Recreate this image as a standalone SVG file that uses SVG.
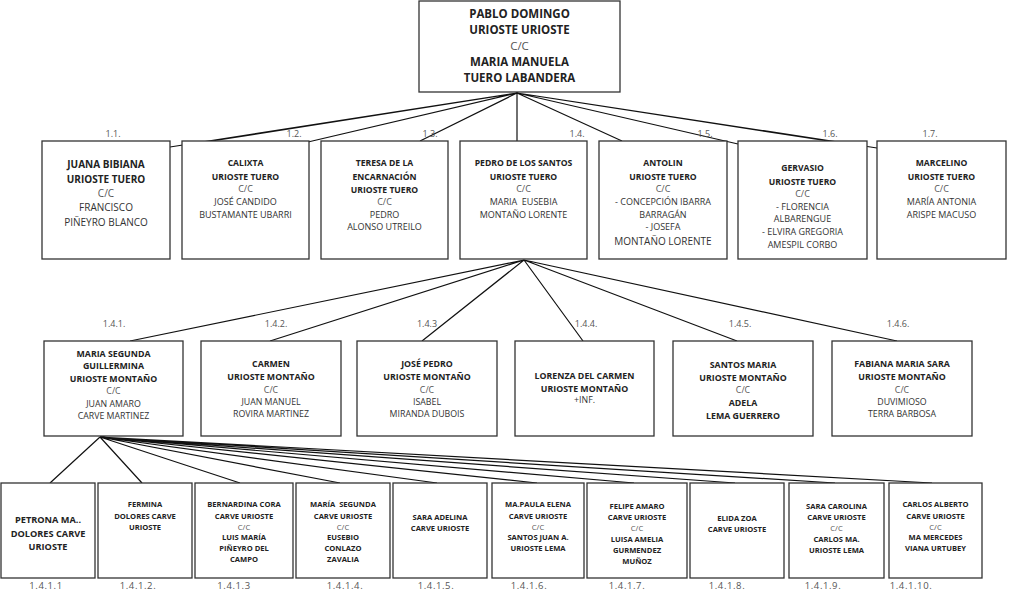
<svg xmlns="http://www.w3.org/2000/svg" width="1024" height="609" viewBox="0 0 1024 609">
<style>
text{font-family:"Open Sans","Noto Sans","Liberation Sans",sans-serif;text-anchor:middle}
.box{fill:#fff;stroke:#333;stroke-width:1.3}
.ln{stroke:#111;stroke-width:1.2;fill:none}
.b{font-weight:700;fill:#222}
.r{fill:#333}
.c{fill:#555}
.lb{fill:#555;font-size:9px}
.lb4{fill:#555;font-size:9.5px;letter-spacing:0.6px}
.s0{font-size:11.5px}
.s1{font-size:8.6px}
.s1r{font-size:9px}
.s2{font-size:10px}
.s3{font-size:8.8px}
.s4{font-size:7.6px}
.s5{font-size:9.2px}
</style>
<rect width="1024" height="609" fill="#fff"/>
<g id="connectors">
<path class="ln" d="M517 93L170 147M517 93L212 141M517 93L308 142M517 93L420 141M517 93L517 141M517 93L622 141M517 93L738 144M517 93L828 141M517 93L877 148"/>
<path class="ln" d="M524 260L130 341M524 260L270 341M524 260L422 341M524 260L583 341M524 260L737 341M524 260L897 341"/>
<path class="ln" d="M100 437L50 483M100 437L142 483M100 437L240 483M100 437L340 483M100 437L437 483M100 437L537 483M100 437L634 483M100 437L735 483M100 437L835 483M100 437L932 483"/>
</g>
<g id="n1">
<rect class="box" x="419" y="1" width="201" height="91"/>
<text class="b s0" x="519.5" y="18">PABLO DOMINGO</text>
<text class="b s0" x="519.5" y="34">URIOSTE URIOSTE</text>
<text class="c s0" x="519.5" y="50">C/C</text>
<text class="b s0" x="519.5" y="66">MARIA MANUELA</text>
<text class="b s0" x="519.5" y="82">TUERO LABANDERA</text>
</g>
<g id="n1_1">
<rect class="box" x="42" y="141" width="128" height="118"/>
<text class="lb" x="113" y="137">1.1.</text>
<text class="b s2" x="106" y="168">JUANA BIBIANA</text>
<text class="b s2" x="106" y="182.5">URIOSTE TUERO</text>
<text class="c s2" x="106" y="197">C/C</text>
<text class="r s2" x="106" y="211">FRANCISCO</text>
<text class="r s2" x="106" y="225.5">PIÑEYRO BLANCO</text>
</g>
<g id="n1_2">
<rect class="box" x="182" y="141" width="127" height="118"/>
<text class="lb" x="294" y="137">1.2.</text>
<text class="b s1" x="245.5" y="166">CALIXTA</text>
<text class="b s1" x="245.5" y="180">URIOSTE TUERO</text>
<text class="c s1r" x="245.5" y="192">C/C</text>
<text class="r s1r" x="245.5" y="205">JOSÉ CANDIDO</text>
<text class="r s1r" x="245.5" y="217.5">BUSTAMANTE UBARRI</text>
</g>
<g id="n1_3">
<rect class="box" x="321" y="141" width="127" height="118"/>
<text class="lb" x="430" y="137">1.3.</text>
<text class="b s1" x="384.5" y="166">TERESA DE LA</text>
<text class="b s1" x="384.5" y="180">ENCARNACIÓN</text>
<text class="b s1" x="384.5" y="192.5">URIOSTE TUERO</text>
<text class="c s1r" x="384.5" y="205">C/C</text>
<text class="r s1r" x="384.5" y="217.5">PEDRO</text>
<text class="r s1r" x="384.5" y="230">ALONSO UTREILO</text>
</g>
<g id="n1_4">
<rect class="box" x="460" y="141" width="127" height="118"/>
<text class="lb" x="577" y="137">1.4.</text>
<text class="b s1" x="523.5" y="166">PEDRO DE LOS SANTOS</text>
<text class="b s1" x="523.5" y="180">URIOSTE TUERO</text>
<text class="c s1r" x="523.5" y="192">C/C</text>
<text class="r s1r" x="523.5" y="205" xml:space="preserve">MARIA  EUSEBIA</text>
<text class="r s1r" x="523.5" y="217.5">MONTAÑO LORENTE</text>
</g>
<g id="n1_5">
<rect class="box" x="599" y="141" width="128" height="118"/>
<text class="lb" x="705" y="137">1.5.</text>
<text class="b s1" x="663" y="166">ANTOLIN</text>
<text class="b s1" x="663" y="180">URIOSTE TUERO</text>
<text class="c s1r" x="663" y="192">C/C</text>
<text class="r s1r" x="663" y="205">- CONCEPCIÓN IBARRA</text>
<text class="r s1r" x="663" y="217.5">BARRAGÁN</text>
<text class="r s1r" x="663" y="230">- JOSEFA</text>
<text class="r s2" x="663" y="245">MONTAÑO LORENTE</text>
</g>
<g id="n1_6">
<rect class="box" x="738" y="141" width="129" height="118"/>
<text class="lb" x="830" y="137">1.6.</text>
<text class="b s1" x="802.5" y="171">GERVASIO</text>
<text class="b s1" x="802.5" y="185">URIOSTE TUERO</text>
<text class="c s1r" x="802.5" y="197">C/C</text>
<text class="r s1r" x="802.5" y="209.5">- FLORENCIA</text>
<text class="r s1r" x="802.5" y="222">ALBARENGUE</text>
<text class="r s1r" x="802.5" y="235">- ELVIRA GREGORIA</text>
<text class="r s1r" x="802.5" y="247.5">AMESPIL CORBO</text>
</g>
<g id="n1_7">
<rect class="box" x="877" y="141" width="129" height="118"/>
<text class="lb" x="930" y="137">1.7.</text>
<text class="b s1" x="941.5" y="166">MARCELINO</text>
<text class="b s1" x="941.5" y="180">URIOSTE TUERO</text>
<text class="c s1r" x="941.5" y="192">C/C</text>
<text class="r s1r" x="941.5" y="205">MARÍA ANTONIA</text>
<text class="r s1r" x="941.5" y="217.5">ARISPE MACUSO</text>
</g>
<g id="n1_4_1">
<rect class="box" x="44" y="341" width="139" height="95"/>
<text class="lb" x="114" y="327">1.4.1.</text>
<text class="b s3" x="113.5" y="356.5">MARIA SEGUNDA</text>
<text class="b s3" x="113.5" y="369">GUILLERMINA</text>
<text class="b s3" x="113.5" y="381.5">URIOSTE MONTAÑO</text>
<text class="c s3" x="113.5" y="394">C/C</text>
<text class="r s3" x="113.5" y="406.5">JUAN AMARO</text>
<text class="r s3" x="113.5" y="419">CARVE MARTINEZ</text>
</g>
<g id="n1_4_2">
<rect class="box" x="201" y="341" width="140" height="95"/>
<text class="lb" x="276" y="327">1.4.2.</text>
<text class="b s3" x="271" y="366.5">CARMEN</text>
<text class="b s3" x="271" y="380">URIOSTE MONTAÑO</text>
<text class="c s3" x="271" y="392.5">C/C</text>
<text class="r s3" x="271" y="404.5">JUAN MANUEL</text>
<text class="r s3" x="271" y="417">ROVIRA MARTINEZ</text>
</g>
<g id="n1_4_3">
<rect class="box" x="357" y="341" width="140" height="95"/>
<text class="lb" x="427" y="327">1.4.3</text>
<text class="b s3" x="427" y="366.5">JOSÉ PEDRO</text>
<text class="b s3" x="427" y="380">URIOSTE MONTAÑO</text>
<text class="c s3" x="427" y="392.5">C/C</text>
<text class="r s3" x="427" y="404.5">ISABEL</text>
<text class="r s3" x="427" y="417">MIRANDA DUBOIS</text>
</g>
<g id="n1_4_4">
<rect class="box" x="515" y="341" width="139" height="95"/>
<text class="lb" x="586" y="327">1.4.4.</text>
<text class="b s3" x="584.5" y="379">LORENZA DEL CARMEN</text>
<text class="b s3" x="584.5" y="391.5">URIOSTE MONTAÑO</text>
<text class="r s3" x="584.5" y="403">+INF.</text>
</g>
<g id="n1_4_5">
<rect class="box" x="673" y="341" width="140" height="95"/>
<text class="lb" x="740" y="327">1.4.5.</text>
<text class="b s3" x="743" y="367.5">SANTOS MARIA</text>
<text class="b s3" x="743" y="380.5">URIOSTE MONTAÑO</text>
<text class="c s3" x="743" y="392.5">C/C</text>
<text class="b s3" x="743" y="405.5">ADELA</text>
<text class="b s3" x="743" y="419">LEMA GUERRERO</text>
</g>
<g id="n1_4_6">
<rect class="box" x="832" y="341" width="140" height="95"/>
<text class="lb" x="898" y="327">1.4.6.</text>
<text class="b s3" x="902" y="366.5">FABIANA MARIA SARA</text>
<text class="b s3" x="902" y="379.5">URIOSTE MONTAÑO</text>
<text class="c s3" x="902" y="392.5">C/C</text>
<text class="r s3" x="902" y="404.5">DUVIMIOSO</text>
<text class="r s3" x="902" y="417">TERRA BARBOSA</text>
</g>
<g id="n1_4_1_1">
<rect class="box" x="1" y="483" width="94" height="95"/>
<text class="b s5" x="48" y="522.5">PETRONA MA..</text>
<text class="b s5" x="48" y="536.5">DOLORES CARVE</text>
<text class="b s5" x="48" y="549.5">URIOSTE</text>
<text class="lb4" x="46" y="589">1.4.1.1</text>
</g>
<g id="n1_4_1_2">
<rect class="box" x="98" y="483" width="94" height="95"/>
<text class="b s4" x="145" y="506.5">FERMINA</text>
<text class="b s4" x="145" y="518.5">DOLORES CARVE</text>
<text class="b s4" x="145" y="529.5">URIOSTE</text>
<text class="lb4" x="138" y="589">1.4.1.2.</text>
</g>
<g id="n1_4_1_3">
<rect class="box" x="195" y="483" width="98" height="95"/>
<text class="b s4" x="244" y="506.5">BERNARDINA CORA</text>
<text class="b s4" x="244" y="518.5">CARVE URIOSTE</text>
<text class="c s4" x="244" y="529.5">C/C</text>
<text class="b s4" x="244" y="540">LUIS MARÍA</text>
<text class="b s4" x="244" y="551">PIÑEYRO DEL</text>
<text class="b s4" x="244" y="562">CAMPO</text>
<text class="lb4" x="234" y="589">1.4.1.3</text>
</g>
<g id="n1_4_1_4">
<rect class="box" x="296" y="483" width="94" height="95"/>
<text class="b s4" x="343" y="506.5" xml:space="preserve">MARÍA  SEGUNDA</text>
<text class="b s4" x="343" y="518.5">CARVE URIOSTE</text>
<text class="c s4" x="343" y="529.5">C/C</text>
<text class="b s4" x="343" y="540">EUSEBIO</text>
<text class="b s4" x="343" y="551">CONLAZO</text>
<text class="b s4" x="343" y="562">ZAVALIA</text>
<text class="lb4" x="345" y="589">1.4.1.4.</text>
</g>
<g id="n1_4_1_5">
<rect class="box" x="393" y="483" width="94" height="95"/>
<text class="b s4" x="440" y="519.5">SARA ADELINA</text>
<text class="b s4" x="440" y="530.5">CARVE URIOSTE</text>
<text class="lb4" x="436" y="589">1.4.1.5.</text>
</g>
<g id="n1_4_1_6">
<rect class="box" x="492" y="483" width="92" height="95"/>
<text class="b s4" x="538" y="506.5">MA.PAULA ELENA</text>
<text class="b s4" x="538" y="518.5">CARVE URIOSTE</text>
<text class="c s4" x="538" y="529.5">C/C</text>
<text class="b s4" x="538" y="540">SANTOS JUAN A.</text>
<text class="b s4" x="538" y="551">URIOSTE LEMA</text>
<text class="lb4" x="529" y="589">1.4.1.6.</text>
</g>
<g id="n1_4_1_7">
<rect class="box" x="587" y="483" width="100" height="95"/>
<text class="b s4" x="637" y="508.5">FELIPE AMARO</text>
<text class="b s4" x="637" y="520">CARVE URIOSTE</text>
<text class="c s4" x="637" y="531">C/C</text>
<text class="b s4" x="637" y="541.5">LUISA AMELIA</text>
<text class="b s4" x="637" y="552.5">GURMENDEZ</text>
<text class="b s4" x="637" y="564">MUÑOZ</text>
<text class="lb4" x="627" y="589">1.4.1.7.</text>
</g>
<g id="n1_4_1_8">
<rect class="box" x="690" y="483" width="94" height="95"/>
<text class="b s4" x="737" y="520.5">ELIDA ZOA</text>
<text class="b s4" x="737" y="531.5">CARVE URIOSTE</text>
<text class="lb4" x="727" y="589">1.4.1.8.</text>
</g>
<g id="n1_4_1_9">
<rect class="box" x="789" y="483" width="95" height="95"/>
<text class="b s4" x="836.5" y="508.5">SARA CAROLINA</text>
<text class="b s4" x="836.5" y="520">CARVE URIOSTE</text>
<text class="c s4" x="836.5" y="531">C/C</text>
<text class="b s4" x="836.5" y="541.5">CARLOS MA.</text>
<text class="b s4" x="836.5" y="552.5">URIOSTE LEMA</text>
<text class="lb4" x="823" y="589">1.4.1.9.</text>
</g>
<g id="n1_4_1_10">
<rect class="box" x="889" y="483" width="93" height="95"/>
<text class="b s4" x="935.5" y="506.5">CARLOS ALBERTO</text>
<text class="b s4" x="935.5" y="518.5">CARVE URIOSTE</text>
<text class="c s4" x="935.5" y="529.5">C/C</text>
<text class="b s4" x="935.5" y="540">MA MERCEDES</text>
<text class="b s4" x="935.5" y="551">VIANA URTUBEY</text>
<text class="lb4" x="911" y="589">1.4.1.10.</text>
</g>
</svg>
